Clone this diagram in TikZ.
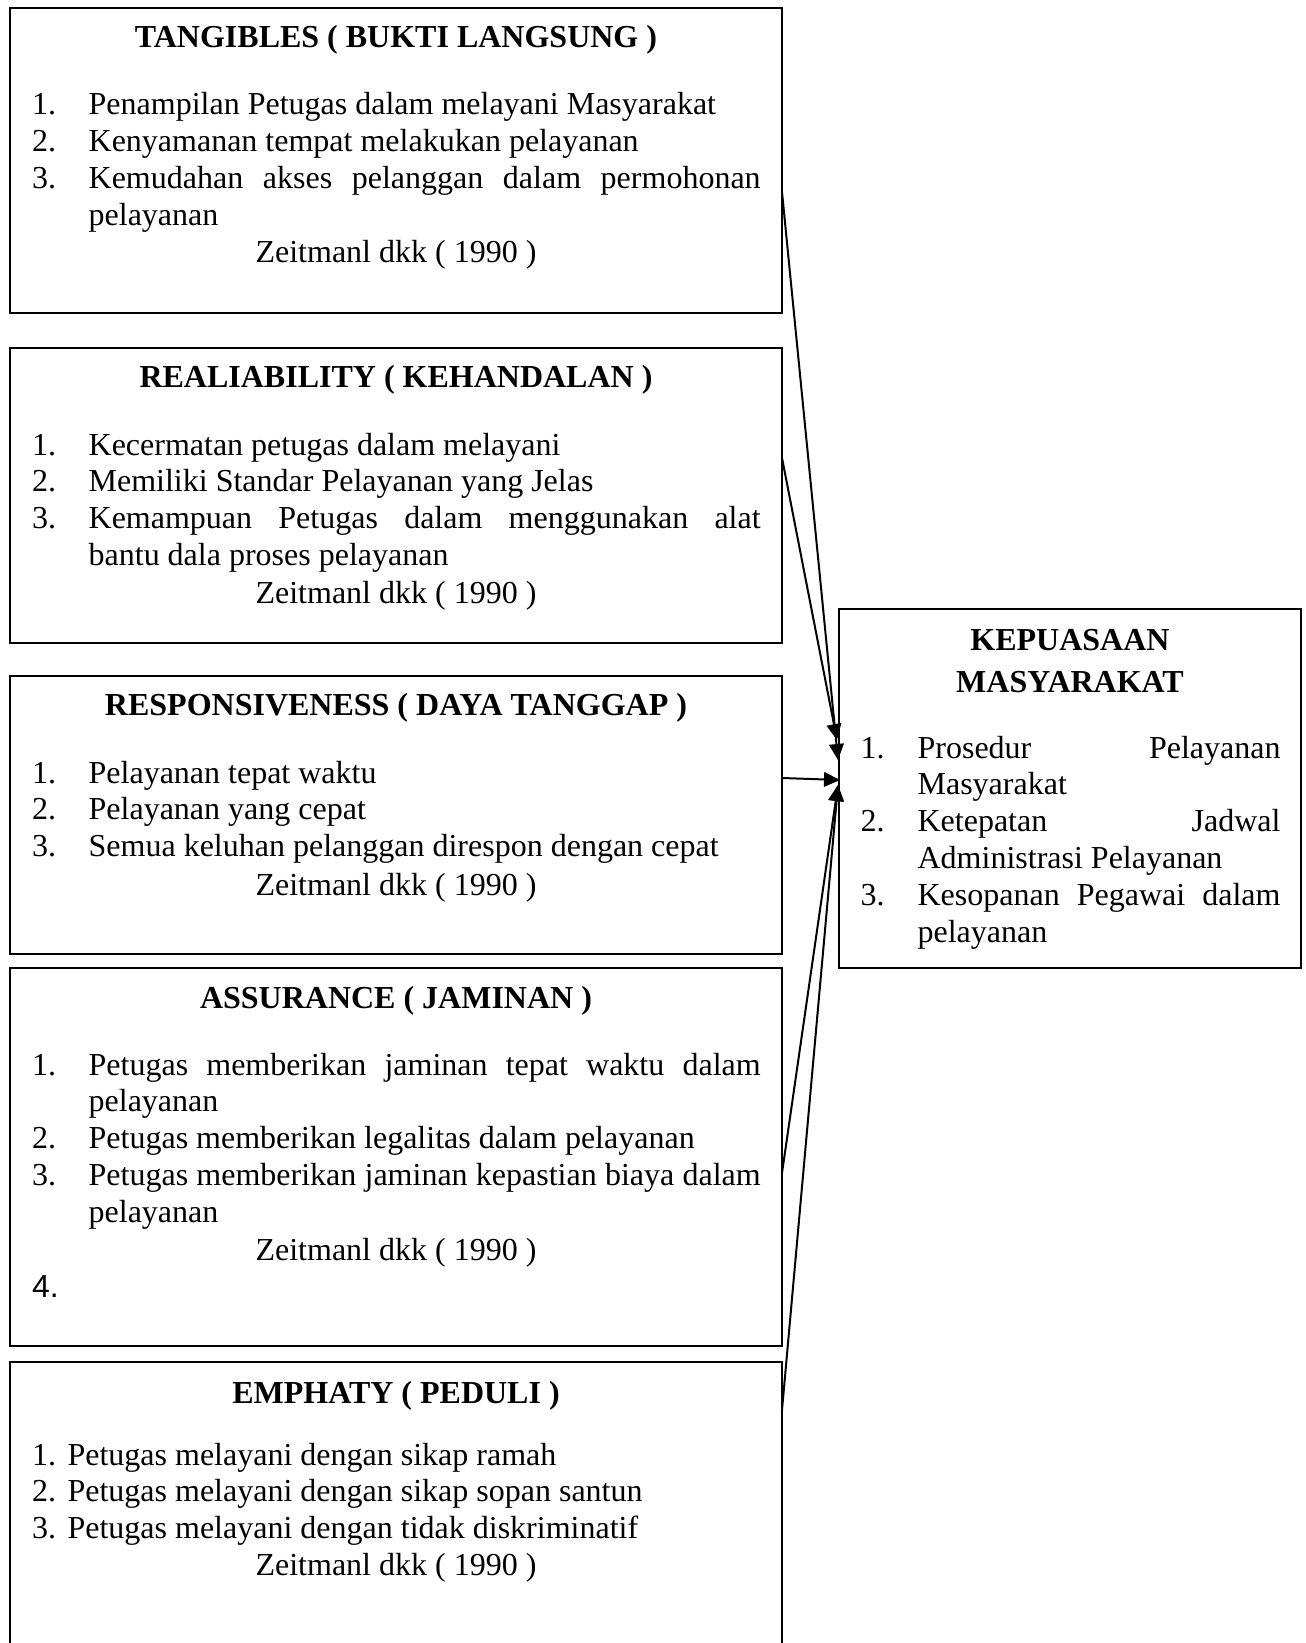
\documentclass[tikz,border=0pt]{standalone}
\usepackage{fontspec}
\setmainfont{Liberation Serif}
\newfontfamily\arialfont{Liberation Sans}
\usetikzlibrary{fit,calc,arrows.meta}
\newcommand\basefont{\fontsize{12pt}{13.85pt}\selectfont}
\newcommand\itm[2]{\hangindent=#1\hangafter=1\noindent\hbox to #1{#2\hfil}}
\tikzset{
  box/.style={draw, line width=0.75pt, inner sep=0pt, outer sep=0pt},
  ttl/.style={font=\basefont\bfseries, inner sep=0pt, anchor=base},
  cite/.style={font=\basefont, inner sep=0pt, anchor=base},
  body/.style={font=\basefont, inner sep=0pt, anchor=base west, text width=#1, align=justify},
  link/.style={line width=0.75pt, -{Triangle[length=6pt,width=5.5pt]}},
}
\begin{document}
\begin{tikzpicture}[x=0.375pt,y=-0.375pt]
\useasboundingbox (0,0) rectangle (1305,1643);
\tolerance=10000 \hbadness=10000 \hyphenpenalty=10000
% boxes
\node[box, fit={(9.5,8.5) (782,313)}] (b1) {};
\node[box, fit={(9.5,348) (782,643)}] (b2) {};
\node[box, fit={(9.5,676) (782,954)}] (b3) {};
\node[box, fit={(9.5,968) (782,1346)}] (b4) {};
\node[box, fit={(9.5,1362) (782,1700)}] (b5) {};
\node[box, fit={(839,609) (1301,968)}] (kp) {};
% box 1
\node[ttl] (h1) at (396,48) {TANGIBLES ( BUKTI LANGSUNG )};
\node[body=273.2pt] (l1) at (31.6,115) {%
\itm{21.2pt}{1.}Penampilan Petugas dalam melayani Masyarakat\par
\itm{21.2pt}{2.}Kenyamanan tempat melakukan pelayanan\par
\itm{21.2pt}{3.}Kemudahan akses pelanggan dalam permohonan\linebreak pelayanan\par};
\node[cite] (c1) at (396,263) {Zeitmanl dkk ( 1990 )};
% box 2
\node[ttl] (h2) at (396,388) {REALIABILITY ( KEHANDALAN )};
\node[body=273.2pt] (l2) at (31.6,455) {%
\itm{21.2pt}{1.}Kecermatan petugas dalam melayani\par
\itm{21.2pt}{2.}Memiliki Standar Pelayanan yang Jelas\par
\itm{21.2pt}{3.}Kemampuan Petugas dalam menggunakan alat\linebreak bantu dala proses pelayanan\par};
\node[cite] (c2) at (396,603) {Zeitmanl dkk ( 1990 )};
% box 3
\node[ttl] (h3) at (396,715) {RESPONSIVENESS ( DAYA TANGGAP )};
\node[body=273.2pt] (l3) at (31.6,783) {%
\itm{21.2pt}{1.}Pelayanan tepat waktu\par
\itm{21.2pt}{2.}Pelayanan yang cepat\par
\itm{21.2pt}{3.}Semua keluhan pelanggan direspon dengan cepat\par};
\node[cite] (c3) at (396,895) {Zeitmanl dkk ( 1990 )};
% box 4
\node[ttl] (h4) at (396,1008) {ASSURANCE ( JAMINAN )};
\node[body=273.2pt] (l4) at (31.6,1075) {%
\itm{21.2pt}{1.}Petugas memberikan jaminan tepat waktu dalam\linebreak pelayanan\par
\itm{21.2pt}{2.}Petugas memberikan legalitas dalam pelayanan\par
\itm{21.2pt}{3.}Petugas memberikan jaminan kepastian biaya dalam\linebreak pelayanan\par};
\node[cite] (c4) at (396,1260) {Zeitmanl dkk ( 1990 )};
\node[font=\fontsize{12pt}{13.85pt}\arialfont, inner sep=0pt, anchor=base west] (n4) at (31.6,1297) {4.};
% box 5
\node[ttl] (h5) at (396,1403) {EMPHATY ( PEDULI )};
\node[body=273.2pt] (l5) at (31.6,1465) {%
\itm{13.3pt}{1.}Petugas melayani dengan sikap ramah\par
\itm{13.3pt}{2.}Petugas melayani dengan sikap sopan santun\par
\itm{13.3pt}{3.}Petugas melayani dengan tidak diskriminatif\par};
\node[cite] (c5) at (396,1575) {Zeitmanl dkk ( 1990 )};
% right box
\node[ttl] (k1) at (1070,650) {KEPUASAAN};
\node[ttl] (k2) at (1070,692) {MASYARAKAT};
\node[body=157.5pt] (kl) at (860,758) {%
\itm{21.4pt}{1.}Prosedur Pelayanan\linebreak Masyarakat\par
\itm{21.4pt}{2.}Ketepatan Jadwal\linebreak Administrasi Pelayanan\par
\itm{21.4pt}{3.}Kesopanan Pegawai dalam\linebreak pelayanan\par};
% arrow tips
\coordinate (t1) at ($(kp.north west)+(-1,151)$);
\coordinate (t2) at ($(kp.north west)+(-2,131)$);
\coordinate (t3) at ($(kp.north west)+(1,171)$);
\coordinate (t4) at ($(kp.north west)+(-1,176)$);
\coordinate (t5) at ($(kp.north west)+(-1,176)$);
% connectors
\draw[link] ($(b1.north east)+(0,183.5)$) -- (t1);
\draw[link] ($(b2.north east)+(0,110)$) -- (t2);
\draw[link] ($(b3.north east)+(0,102)$) -- (t3);
\draw[link] ($(b4.north east)+(0,205)$) -- (t4);
\draw[link] ($(b5.north east)+(0,48)$) -- (t5);
\end{tikzpicture}
\end{document}
